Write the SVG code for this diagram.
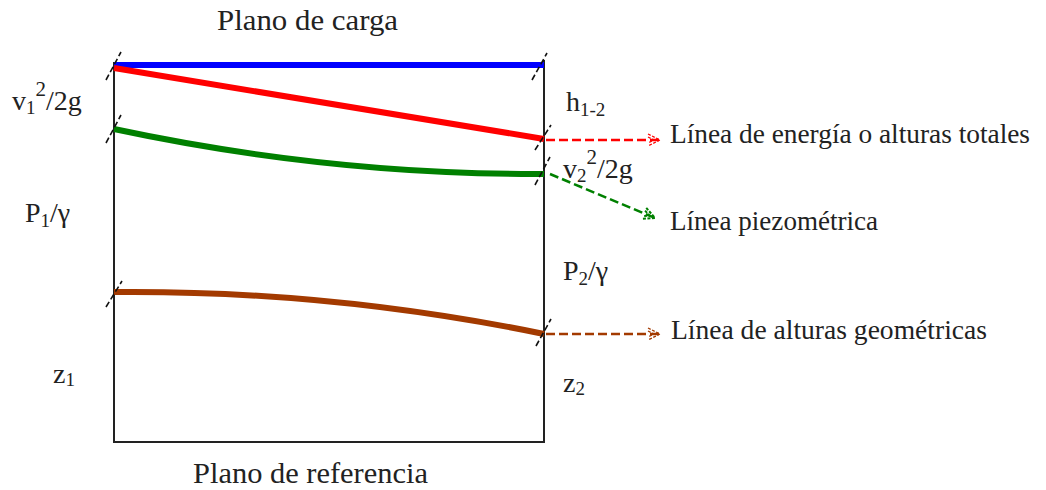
<svg xmlns="http://www.w3.org/2000/svg" width="1046" height="490" viewBox="0 0 1046 490">
<style>
text{font-family:"Liberation Serif","Times New Roman",serif;fill:#222;}
.lbl{font-size:28px;}
.ttl{font-size:29px;}
.sub{font-size:19px;}
.sup{font-size:21px;}
.frame{stroke:#222;stroke-width:2;fill:none;}
.tick{stroke:#111;stroke-width:1.6;stroke-dasharray:6 3;fill:none;}
.arr{stroke-width:2.5;stroke-dasharray:9 4;fill:none;}
</style>
<defs>
<marker id="mRed" viewBox="0 0 14 14" refX="13" refY="7" markerWidth="14" markerHeight="14" markerUnits="userSpaceOnUse" orient="auto">
<path d="M1,1 L13,7 L1,13 M1,4 L7,7 L1,10" stroke="#ff0000" stroke-width="1.2" stroke-dasharray="3 1.5" fill="none"/>
</marker>
<marker id="mGreen" viewBox="0 0 14 14" refX="13" refY="7" markerWidth="14" markerHeight="14" markerUnits="userSpaceOnUse" orient="auto">
<path d="M1,1 L13,7 L1,13 M1,4 L7,7 L1,10" stroke="#008000" stroke-width="2" stroke-dasharray="3 1.5" fill="none"/>
</marker>
<marker id="mBrown" viewBox="0 0 14 14" refX="13" refY="7" markerWidth="14" markerHeight="14" markerUnits="userSpaceOnUse" orient="auto">
<path d="M1,1 L13,7 L1,13 M1,4 L7,7 L1,10" stroke="#a33a00" stroke-width="1.3" stroke-dasharray="3 1.5" fill="none"/>
</marker>
</defs>
<rect width="1046" height="490" fill="#fff"/>
<g id="frame">
<path class="frame" d="M114,62 V442 H544 V60"/>
</g>
<g id="lines">
<line id="plano-carga" x1="114" y1="65" x2="544" y2="65" stroke="#0000ff" stroke-width="6"/>
<line id="linea-energia" x1="114" y1="68" x2="544" y2="139" stroke="#ff0000" stroke-width="6"/>
<path id="linea-piezometrica" d="M114,129 Q330,175 544,174" stroke="#008000" stroke-width="6" fill="none"/>
<path id="linea-geometrica" d="M114,292 Q330,290 544,334" stroke="#a33a00" stroke-width="6" fill="none"/>
</g>
<g id="ticks">
<line class="tick" x1="106" y1="80" x2="121" y2="52"/>
<line class="tick" x1="106" y1="143" x2="121" y2="115"/>
<line class="tick" x1="106" y1="307" x2="122" y2="281"/>
<line class="tick" x1="532" y1="80" x2="547" y2="53"/>
<line class="tick" x1="535" y1="150" x2="551" y2="125"/>
<line class="tick" x1="535" y1="185" x2="550" y2="157"/>
<line class="tick" x1="536" y1="346" x2="551" y2="319"/>
</g>
<g id="connectors">
<line class="arr" x1="546" y1="140" x2="660" y2="140" stroke="#ff0000" marker-end="url(#mRed)"/>
<line class="arr" x1="550" y1="174" x2="655" y2="218" stroke="#008000" stroke-width="3.5" marker-end="url(#mGreen)"/>
<line class="arr" x1="546" y1="334" x2="660" y2="334" stroke="#a33a00" marker-end="url(#mBrown)"/>
</g>
<g id="labels">
<text class="ttl" x="217" y="30" textLength="181" lengthAdjust="spacingAndGlyphs">Plano de carga</text>
<text class="ttl" x="193" y="483" textLength="235" lengthAdjust="spacingAndGlyphs">Plano de referencia</text>
<text class="lbl" x="12" y="110">v<tspan class="sub" dy="4">1</tspan><tspan class="sup" dy="-18">2</tspan><tspan dy="14">/2g</tspan></text>
<text class="lbl" x="25" y="222">P<tspan class="sub" dy="5">1</tspan><tspan dy="-5">/γ</tspan></text>
<text class="lbl" x="53" y="383">z<tspan class="sub" dy="3">1</tspan></text>
<text class="lbl" x="566" y="111">h<tspan class="sub" dy="5">1-2</tspan></text>
<text class="lbl" x="563" y="178">v<tspan class="sub" dy="4">2</tspan><tspan class="sup" dy="-18">2</tspan><tspan dy="14">/2g</tspan></text>
<text class="lbl" x="563" y="280">P<tspan class="sub" dy="5">2</tspan><tspan dy="-5">/γ</tspan></text>
<text class="lbl" x="563" y="392">z<tspan class="sub" dy="3">2</tspan></text>
<text class="lbl" x="670" y="143" textLength="360" lengthAdjust="spacingAndGlyphs">Línea de energía o alturas totales</text>
<text class="lbl" x="670" y="230" textLength="208" lengthAdjust="spacingAndGlyphs">Línea piezométrica</text>
<text class="lbl" x="671" y="339" textLength="316" lengthAdjust="spacingAndGlyphs">Línea de alturas geométricas</text>
</g>
</svg>
